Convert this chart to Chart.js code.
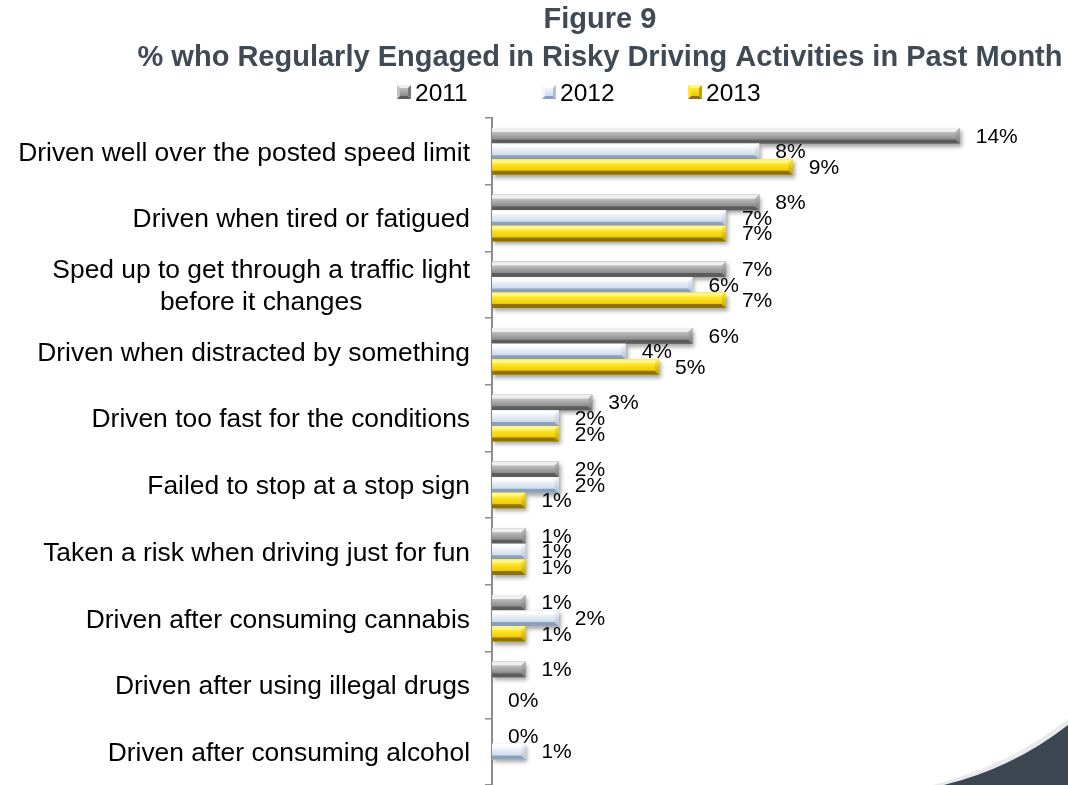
<!DOCTYPE html>
<html>
<head>
<meta charset="utf-8">
<title>Figure 9 – Risky Driving Activities</title>
<script src="https://cdn.jsdelivr.net/npm/chart.js@4"></script>
<style>
  html, body { margin: 0; padding: 0; background: #ffffff; }
  canvas { display: block; }
</style>
</head>
<body>
<canvas id="chart" width="1068" height="785"></canvas>
<script>
// ---- data -------------------------------------------------------------
const titleLines = ['Figure 9', '% who Regularly Engaged in Risky Driving Activities in Past Month'];

const categories = [
  'Driven well over the posted speed limit',
  'Driven when tired or fatigued',
  ['Sped up to get through a traffic light', 'before it changes'],
  'Driven when distracted by something',
  'Driven too fast for the conditions',
  'Failed to stop at a stop sign',
  'Taken a risk when driving just for fun',
  'Driven after consuming cannabis',
  'Driven after using illegal drugs',
  'Driven after consuming alcohol'
];

const seriesNames = ['2011', '2012', '2013'];
const values2011 = [14, 8, 7, 6, 3, 2, 1, 1, 1, 0];
const values2012 = [8, 7, 6, 4, 2, 2, 1, 2, null, 1];
const values2013 = [9, 7, 7, 5, 2, 1, 1, 1, 0, null];

// ---- styling ----------------------------------------------------------
const FONT = '"Liberation Sans", Arial, Helvetica, sans-serif';

// bevel palettes: top edge, face gradient (upper, lower), bottom edge, right end
const palettes = [
  { top: '#efefef', faceA: '#c0c0c0', faceB: '#8a8a8a', bottom: '#5c5c5c', end: '#777777', base: '#a6a6a6' },
  { top: '#ffffff', faceA: '#f2f6fb', faceB: '#cfdbea', bottom: '#8aa0bb', end: '#aebfd4', base: '#dce6f2' },
  { top: '#fff58a', faceA: '#ffea30', faceB: '#efc900', bottom: '#8f7200', end: '#c29e00', base: '#f5d800' }
];

function drawBevelRect(ctx, x0, x1, top, bot, pal, b, shadow) {
  const w = x1 - x0;
  if (w <= 0.5) return;
  b = Math.min(b, w / 2, (bot - top) / 2);
  ctx.save();
  if (shadow) {
    ctx.shadowColor = 'rgba(0,0,0,0.35)';
    ctx.shadowBlur = 4;
    ctx.shadowOffsetX = 2;
    ctx.shadowOffsetY = 3;
  }
  ctx.fillStyle = pal.base;
  ctx.fillRect(x0, top, w, bot - top);
  ctx.restore();

  // face
  const g = ctx.createLinearGradient(0, top + b, 0, bot - b);
  g.addColorStop(0, pal.faceA);
  g.addColorStop(1, pal.faceB);
  ctx.fillStyle = g;
  ctx.fillRect(x0, top + b, w - b, bot - top - 2 * b);

  // top bevel
  ctx.fillStyle = pal.top;
  ctx.beginPath();
  ctx.moveTo(x0, top); ctx.lineTo(x1, top); ctx.lineTo(x1 - b, top + b); ctx.lineTo(x0, top + b);
  ctx.closePath(); ctx.fill();

  // bottom bevel
  ctx.fillStyle = pal.bottom;
  ctx.beginPath();
  ctx.moveTo(x0, bot); ctx.lineTo(x1, bot); ctx.lineTo(x1 - b, bot - b); ctx.lineTo(x0, bot - b);
  ctx.closePath(); ctx.fill();

  // right end bevel
  const ge = ctx.createLinearGradient(0, top, 0, bot);
  ge.addColorStop(0, pal.faceA);
  ge.addColorStop(1, pal.end);
  ctx.fillStyle = ge;
  ctx.beginPath();
  ctx.moveTo(x1, top); ctx.lineTo(x1, bot); ctx.lineTo(x1 - b, bot - b); ctx.lineTo(x1 - b, top + b);
  ctx.closePath(); ctx.fill();
}

// square legend swatch with a framed bevel on all four sides
function drawLegendSwatch(ctx, x, y, s, pal) {
  const b = 3;
  const tri = (pts, color) => {
    ctx.fillStyle = color;
    ctx.beginPath();
    ctx.moveTo(pts[0][0], pts[0][1]);
    for (let k = 1; k < pts.length; k++) ctx.lineTo(pts[k][0], pts[k][1]);
    ctx.closePath();
    ctx.fill();
  };
  tri([[x, y], [x + s, y], [x + s - b, y + b], [x + b, y + b]], pal.top);
  tri([[x, y], [x + b, y + b], [x + b, y + s - b], [x, y + s]], pal.faceA);
  tri([[x + s, y], [x + s, y + s], [x + s - b, y + s - b], [x + s - b, y + b]], pal.end);
  tri([[x, y + s], [x + s, y + s], [x + s - b, y + s - b], [x + b, y + s - b]], pal.bottom);
  const g = ctx.createLinearGradient(0, y + b, 0, y + s - b);
  g.addColorStop(0, pal.faceA);
  g.addColorStop(1, pal.faceB);
  ctx.fillStyle = g;
  ctx.fillRect(x + b, y + b, s - 2 * b, s - 2 * b);
}

// ---- plugins ----------------------------------------------------------
const decorPlugin = {
  id: 'decor',
  beforeDraw(chart) {
    const ctx = chart.ctx;
    const W = chart.width, H = chart.height;
    ctx.save();
    // soft halo along the swoosh edge
    ctx.fillStyle = 'rgba(190,195,200,0.35)';
    ctx.beginPath();
    ctx.moveTo(W - 135, H);
    ctx.quadraticCurveTo(W - 58, H - 20, W, H - 66);
    ctx.lineTo(W, H);
    ctx.closePath();
    ctx.fill();
    // dark swoosh in the lower right corner
    ctx.fillStyle = '#3b4651';
    ctx.beginPath();
    ctx.moveTo(W - 124, H);
    ctx.quadraticCurveTo(W - 55, H - 17, W, H - 60);
    ctx.lineTo(W, H);
    ctx.closePath();
    ctx.fill();
    ctx.restore();
  },
  afterDraw(chart) {
    const ctx = chart.ctx;
    ctx.save();
    // title
    ctx.fillStyle = '#404a55';
    ctx.font = 'bold 29px ' + FONT;
    ctx.textAlign = 'center';
    ctx.textBaseline = 'alphabetic';
    ctx.fillText(titleLines[0], 600, 28);
    ctx.fillText(titleLines[1], 600, 66);

    // legend
    const legendX = [397, 542, 688];
    ctx.font = '24.5px ' + FONT;
    ctx.textAlign = 'left';
    chart.data.datasets.forEach((ds, i) => {
      const x = legendX[i];
      drawLegendSwatch(ctx, x, 85, 14, palettes[i]);
      ctx.fillStyle = '#000000';
      ctx.fillText(ds.label, x + 18, 101);
    });

    // category labels
    const yScale = chart.scales.y;
    ctx.fillStyle = '#000000';
    ctx.font = '26.4px ' + FONT;
    ctx.textBaseline = 'middle';
    const rightX = yScale.right - 22;
    categories.forEach((lab, i) => {
      const y = yScale.getPixelForValue(i);
      if (Array.isArray(lab)) {
        const widths = lab.map(l => ctx.measureText(l).width);
        const maxW = Math.max(...widths);
        const cx = rightX - maxW / 2;
        const lh = 32;
        ctx.textAlign = 'center';
        lab.forEach((l, k) => {
          ctx.fillText(l, cx, y + 2 + (k - (lab.length - 1) / 2) * lh);
        });
      } else {
        ctx.textAlign = 'right';
        ctx.fillText(lab, rightX, y + 2);
      }
    });
    ctx.restore();
  },
  afterDatasetsDraw(chart) {
    const ctx = chart.ctx;
    ctx.save();
    // beveled bars on top of the library's bar geometry
    chart.data.datasets.forEach((ds, di) => {
      const meta = chart.getDatasetMeta(di);
      meta.data.forEach((el, i) => {
        if (ds.data[i] === null || ds.data[i] === undefined) return;
        const p = el.getProps(['x', 'y', 'base', 'height'], true);
        const x0 = Math.min(p.base, p.x), x1 = Math.max(p.base, p.x);
        drawBevelRect(ctx, x0, x1, p.y - p.height / 2, p.y + p.height / 2, palettes[di], 4, true);
      });
    });
    // value labels
    ctx.fillStyle = '#000000';
    ctx.font = '21px ' + FONT;
    ctx.textAlign = 'left';
    ctx.textBaseline = 'middle';
    chart.data.datasets.forEach((ds, di) => {
      const meta = chart.getDatasetMeta(di);
      meta.data.forEach((el, i) => {
        const v = ds.data[i];
        if (v === null || v === undefined) return;
        const p = el.getProps(['x', 'y'], true);
        ctx.fillText(v + '%', p.x + 16, p.y + 1);
      });
    });
    ctx.restore();
  }
};

// ---- chart ------------------------------------------------------------
const seriesValues = [values2011, values2012, values2013];

new Chart(document.getElementById('chart'), {
  type: 'bar',
  data: {
    labels: categories,
    datasets: seriesNames.map((name, i) => ({
      label: name,
      data: seriesValues[i],
      backgroundColor: palettes[i].base,
      borderWidth: 0,
      categoryPercentage: 0.7,
      barPercentage: 1.0
    }))
  },
  options: {
    indexAxis: 'y',
    responsive: false,
    animation: false,
    devicePixelRatio: 1,
    layout: { padding: { top: 118, right: 8, bottom: 0, left: 0 } },
    plugins: {
      legend: { display: false },
      title: { display: false },
      tooltip: { enabled: false }
    },
    scales: {
      x: {
        display: false,
        min: 0,
        max: 17
      },
      y: {
        afterFit(scale) { scale.width = 492; },
        ticks: { display: false },
        grid: {
          display: true,
          drawOnChartArea: false,
          drawTicks: true,
          tickLength: 7,
          color: '#8c8c8c',
          lineWidth: 1.5,
          offset: true
        },
        border: { display: true, color: '#8c8c8c', width: 2 }
      }
    }
  },
  plugins: [decorPlugin]
});
</script>
</body>
</html>
